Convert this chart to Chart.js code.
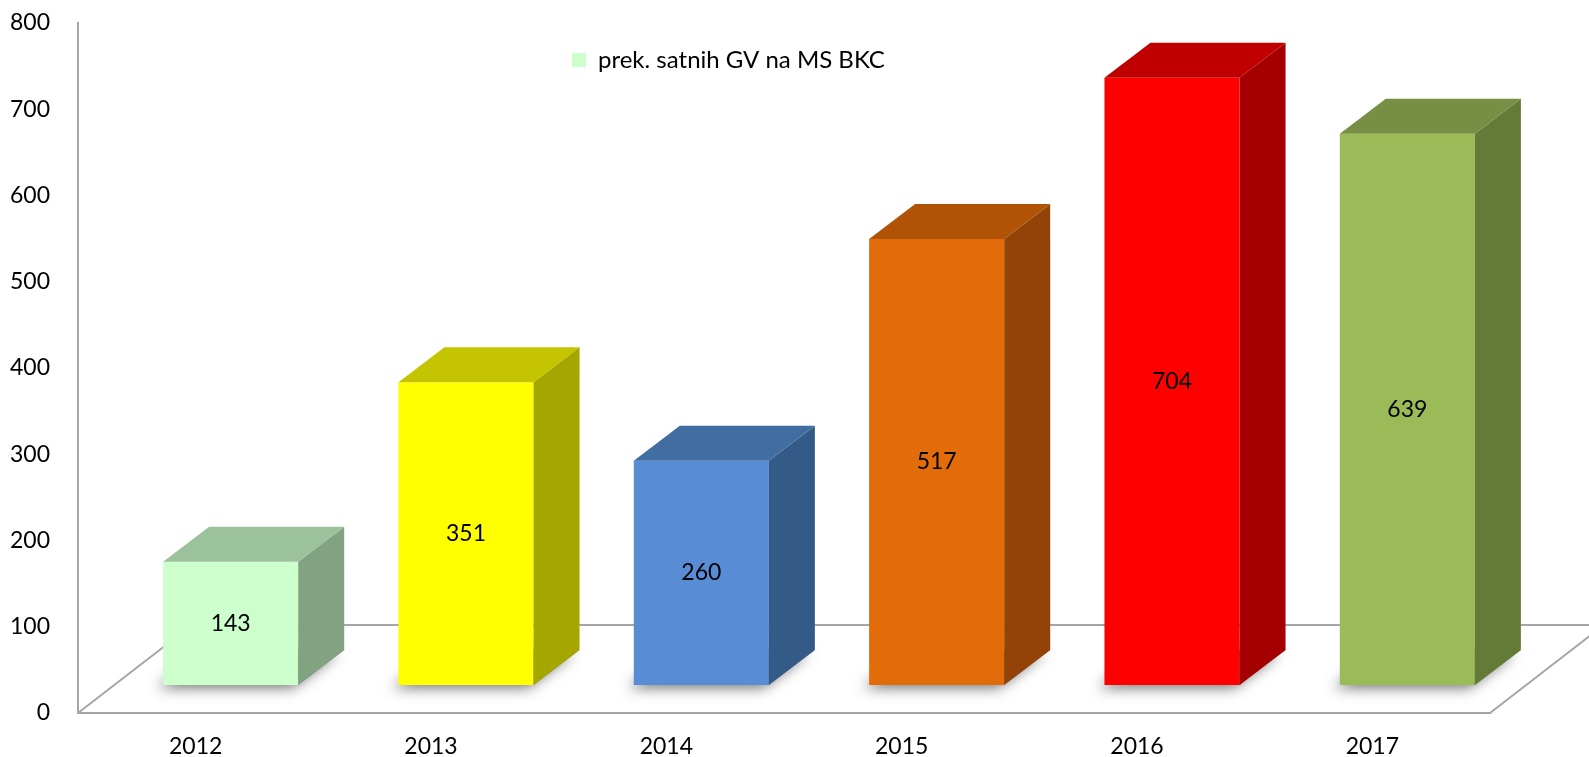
<!DOCTYPE html>
<html>
<head>
<meta charset="utf-8">
<script src="https://cdn.jsdelivr.net/npm/chart.js@4.4.1/dist/chart.umd.min.js"></script>
<style>
  html, body { margin: 0; padding: 0; background: #ffffff; overflow: hidden; }
  #wrap { width: 1589px; height: 757px; position: relative; }
</style>
</head>
<body>
<div id="wrap"><canvas id="c"></canvas></div>
<script>
// ---- data ----
const categories = ['2012', '2013', '2014', '2015', '2016', '2017'];
const values = [143, 351, 260, 517, 704, 639];
const seriesName = 'prek. satnih GV na MS BKC';
const yMin = 0;
const yMax = 800;
const yStep = 100;

// ---- styles ----
const frontColors = ['#CCFFCC', '#FFFF00', '#588CD5', '#E36C0A', '#FF0000', '#9BBB59'];
const topColors   = ['#9BC29B', '#C4C400', '#426DA0', '#B05307', '#C00000', '#778F44'];
const sideColors  = ['#82A382', '#A6A600', '#345A88', '#934308', '#A50000', '#647A37'];
const FONT_FAMILY = 'Lato, "Open Sans", sans-serif';
const FONT_SIZE = 23;
const LEGEND_FONT_SIZE = 24;
const AXIS_COLOR = '#A6A6A6';
const FLOOR_DX = 114, FLOOR_DY = 88;   // floor depth
const BAR_OX = 35, BAR_OY = 28;        // bar front plane offset inside floor
const BAR_DX = 46, BAR_DY = 35;        // bar depth
const LEGEND_LEFT = 572, LEGEND_TOP = 38;

const threeD = {
  id: 'threeD',
  afterUpdate(chart) {
    const lg = chart.legend;
    if (lg) {
      const w = lg.width, h = lg.height;
      lg.left = LEGEND_LEFT - lg.options.labels.padding;
      lg.right = lg.left + w;
      lg.top = LEGEND_TOP;
      lg.bottom = lg.top + h;
    }
  },
  beforeDatasetsDraw(chart) {
    const ctx = chart.ctx, a = chart.chartArea;
    ctx.save();
    ctx.strokeStyle = AXIS_COLOR;
    ctx.lineWidth = 2;
    ctx.beginPath();
    ctx.moveTo(a.left, a.bottom);
    ctx.lineTo(a.left + FLOOR_DX, a.bottom - FLOOR_DY);
    ctx.lineTo(a.right + FLOOR_DX, a.bottom - FLOOR_DY);
    ctx.lineTo(a.right, a.bottom);
    ctx.stroke();
    const meta = chart.getDatasetMeta(0);
    meta.data.forEach((el) => {
      const xl = el.x - el.width / 2 + BAR_OX, xr = el.x + el.width / 2 + BAR_OX;
      const yb = el.base - BAR_OY;
      ctx.save();
      ctx.shadowColor = 'rgba(0,0,0,0.55)';
      ctx.shadowBlur = 14;
      ctx.shadowOffsetX = -6;
      ctx.shadowOffsetY = 3;
      ctx.fillStyle = '#888888';
      ctx.beginPath();
      ctx.moveTo(xl, yb);
      ctx.lineTo(xr, yb);
      ctx.lineTo(xr + BAR_DX, yb - BAR_DY);
      ctx.lineTo(xl + BAR_DX, yb - BAR_DY);
      ctx.closePath();
      ctx.fill();
      ctx.restore();
    });
    ctx.restore();
    ctx.save();
    ctx.translate(BAR_OX, -BAR_OY);
  },
  afterDatasetsDraw(chart) {
    const ctx = chart.ctx;
    ctx.restore();
    const meta = chart.getDatasetMeta(0);
    meta.data.forEach((el, i) => {
      const xl = el.x - el.width / 2 + BAR_OX, xr = el.x + el.width / 2 + BAR_OX;
      const yt = el.y - BAR_OY, yb = el.base - BAR_OY;
      ctx.save();
      // side face
      ctx.fillStyle = sideColors[i];
      ctx.beginPath();
      ctx.moveTo(xr, yt);
      ctx.lineTo(xr + BAR_DX, yt - BAR_DY);
      ctx.lineTo(xr + BAR_DX, yb - BAR_DY);
      ctx.lineTo(xr, yb);
      ctx.closePath();
      ctx.fill();
      // top face
      ctx.fillStyle = topColors[i];
      ctx.beginPath();
      ctx.moveTo(xl, yt);
      ctx.lineTo(xl + BAR_DX, yt - BAR_DY);
      ctx.lineTo(xr + BAR_DX, yt - BAR_DY);
      ctx.lineTo(xr, yt);
      ctx.closePath();
      ctx.fill();
      // value label
      ctx.fillStyle = '#000000';
      ctx.font = FONT_SIZE + 'px ' + FONT_FAMILY;
      ctx.textAlign = 'center';
      ctx.textBaseline = 'middle';
      ctx.fillText(String(values[i]), (xl + xr) / 2, (yt + yb) / 2);
      ctx.restore();
    });
  }
};

Chart.defaults.font.family = FONT_FAMILY;
Chart.defaults.font.size = FONT_SIZE;
Chart.defaults.color = '#000000';

new Chart(document.getElementById('c'), {
  type: 'bar',
  data: {
    labels: categories,
    datasets: [{
      label: seriesName,
      data: values,
      backgroundColor: frontColors,
      borderWidth: 0,
      barPercentage: 0.574,
      categoryPercentage: 1.0,
      clip: false
    }]
  },
  options: {
    responsive: true,
    maintainAspectRatio: false,
    devicePixelRatio: 1,
    animation: false,
    events: [],
    layout: { padding: { top: 23, right: 99, bottom: 0, left: 0 } },
    scales: {
      x: {
        grid: { display: false, drawTicks: true, tickLength: 20 },
        border: { display: true, color: AXIS_COLOR, width: 2 },
        ticks: { padding: 0, color: '#000000', font: { size: FONT_SIZE } },
        afterFit(scale) { scale.height = 44; }
      },
      y: {
        min: yMin,
        max: yMax,
        grid: { display: false, drawTicks: true, tickLength: 28 },
        border: { display: true, color: AXIS_COLOR, width: 2 },
        ticks: { stepSize: yStep, padding: 0, color: '#000000', font: { size: FONT_SIZE } },
        afterFit(scale) { scale.width = 78; }
      }
    },
    plugins: {
      tooltip: { enabled: false },
      legend: {
        display: true,
        position: 'chartArea',
        align: 'start',
        onClick: null,
        labels: {
          boxWidth: 14,
          boxHeight: 14,
          padding: 10,
          color: '#000000',
          font: { size: LEGEND_FONT_SIZE },
          generateLabels: () => [{
            text: seriesName,
            fillStyle: frontColors[0],
            strokeStyle: frontColors[0],
            lineWidth: 0,
            hidden: false,
            datasetIndex: 0
          }]
        }
      }
    }
  },
  plugins: [threeD]
});
</script>
</body>
</html>
